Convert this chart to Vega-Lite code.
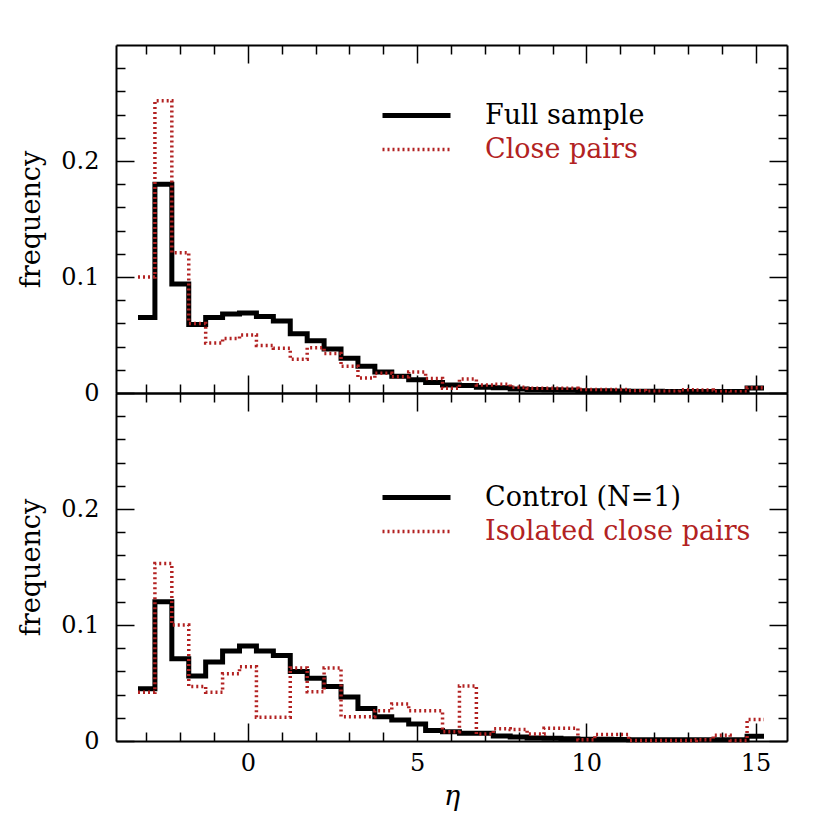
{
 "$schema": "https://vega.github.io/schema/vega-lite/v6.json",
 "padding": {"left": 17, "top": 44, "right": 10, "bottom": 10},
 "background": "white",
 "config": {
  "font": "DejaVu Serif",
  "view": {"stroke": null},
  "axis": {"grid": false, "domainColor": "black", "domainWidth": 2, "tickColor": "black", "tickWidth": 1.5, "labelFont": "DejaVu Serif", "labelFontSize": 24, "labelColor": "black", "titleFont": "DejaVu Serif", "titleFontSize": 27, "titleFontWeight": "normal", "titleColor": "black"},
  "legend": {"labelFont": "DejaVu Serif", "labelFontSize": 27, "labelLimit": 0}
 },
 "datasets": {
  "hist": [
   {"panel":"top","series":"Full sample","eta":-3.25,"freq":0.065},
   {"panel":"top","series":"Full sample","eta":-2.75,"freq":0.180},
   {"panel":"top","series":"Full sample","eta":-2.25,"freq":0.094},
   {"panel":"top","series":"Full sample","eta":-1.75,"freq":0.059},
   {"panel":"top","series":"Full sample","eta":-1.25,"freq":0.065},
   {"panel":"top","series":"Full sample","eta":-0.75,"freq":0.068},
   {"panel":"top","series":"Full sample","eta":-0.25,"freq":0.069},
   {"panel":"top","series":"Full sample","eta":0.25,"freq":0.066},
   {"panel":"top","series":"Full sample","eta":0.75,"freq":0.062},
   {"panel":"top","series":"Full sample","eta":1.25,"freq":0.051},
   {"panel":"top","series":"Full sample","eta":1.75,"freq":0.045},
   {"panel":"top","series":"Full sample","eta":2.25,"freq":0.038},
   {"panel":"top","series":"Full sample","eta":2.75,"freq":0.030},
   {"panel":"top","series":"Full sample","eta":3.25,"freq":0.023},
   {"panel":"top","series":"Full sample","eta":3.75,"freq":0.018},
   {"panel":"top","series":"Full sample","eta":4.25,"freq":0.0145},
   {"panel":"top","series":"Full sample","eta":4.75,"freq":0.0115},
   {"panel":"top","series":"Full sample","eta":5.25,"freq":0.009},
   {"panel":"top","series":"Full sample","eta":5.75,"freq":0.0068},
   {"panel":"top","series":"Full sample","eta":6.25,"freq":0.0065},
   {"panel":"top","series":"Full sample","eta":6.75,"freq":0.005},
   {"panel":"top","series":"Full sample","eta":7.25,"freq":0.0045},
   {"panel":"top","series":"Full sample","eta":7.75,"freq":0.0035},
   {"panel":"top","series":"Full sample","eta":8.25,"freq":0.003},
   {"panel":"top","series":"Full sample","eta":8.75,"freq":0.0028},
   {"panel":"top","series":"Full sample","eta":9.25,"freq":0.0025},
   {"panel":"top","series":"Full sample","eta":9.75,"freq":0.002},
   {"panel":"top","series":"Full sample","eta":10.25,"freq":0.002},
   {"panel":"top","series":"Full sample","eta":10.75,"freq":0.0018},
   {"panel":"top","series":"Full sample","eta":11.25,"freq":0.0016},
   {"panel":"top","series":"Full sample","eta":11.75,"freq":0.0015},
   {"panel":"top","series":"Full sample","eta":12.25,"freq":0.0014},
   {"panel":"top","series":"Full sample","eta":12.75,"freq":0.0014},
   {"panel":"top","series":"Full sample","eta":13.25,"freq":0.0013},
   {"panel":"top","series":"Full sample","eta":13.75,"freq":0.0013},
   {"panel":"top","series":"Full sample","eta":14.25,"freq":0.0013},
   {"panel":"top","series":"Full sample","eta":14.75,"freq":0.0043},
   {"panel":"top","series":"Full sample","eta":15.25,"freq":0.0043},
   {"panel":"top","series":"Close pairs","eta":-3.25,"freq":0.100},
   {"panel":"top","series":"Close pairs","eta":-2.75,"freq":0.252},
   {"panel":"top","series":"Close pairs","eta":-2.25,"freq":0.121},
   {"panel":"top","series":"Close pairs","eta":-1.75,"freq":0.060},
   {"panel":"top","series":"Close pairs","eta":-1.25,"freq":0.043},
   {"panel":"top","series":"Close pairs","eta":-0.75,"freq":0.047},
   {"panel":"top","series":"Close pairs","eta":-0.25,"freq":0.050},
   {"panel":"top","series":"Close pairs","eta":0.25,"freq":0.041},
   {"panel":"top","series":"Close pairs","eta":0.75,"freq":0.0386},
   {"panel":"top","series":"Close pairs","eta":1.25,"freq":0.029},
   {"panel":"top","series":"Close pairs","eta":1.75,"freq":0.039},
   {"panel":"top","series":"Close pairs","eta":2.25,"freq":0.034},
   {"panel":"top","series":"Close pairs","eta":2.75,"freq":0.023},
   {"panel":"top","series":"Close pairs","eta":3.25,"freq":0.013},
   {"panel":"top","series":"Close pairs","eta":3.75,"freq":0.017},
   {"panel":"top","series":"Close pairs","eta":4.25,"freq":0.014},
   {"panel":"top","series":"Close pairs","eta":4.75,"freq":0.018},
   {"panel":"top","series":"Close pairs","eta":5.25,"freq":0.0125},
   {"panel":"top","series":"Close pairs","eta":5.75,"freq":0.004},
   {"panel":"top","series":"Close pairs","eta":6.25,"freq":0.012},
   {"panel":"top","series":"Close pairs","eta":6.75,"freq":0.007},
   {"panel":"top","series":"Close pairs","eta":7.25,"freq":0.0075},
   {"panel":"top","series":"Close pairs","eta":7.75,"freq":0.005},
   {"panel":"top","series":"Close pairs","eta":8.25,"freq":0.004},
   {"panel":"top","series":"Close pairs","eta":8.75,"freq":0.004},
   {"panel":"top","series":"Close pairs","eta":9.25,"freq":0.004},
   {"panel":"top","series":"Close pairs","eta":9.75,"freq":0.003},
   {"panel":"top","series":"Close pairs","eta":10.25,"freq":0.003},
   {"panel":"top","series":"Close pairs","eta":10.75,"freq":0.003},
   {"panel":"top","series":"Close pairs","eta":11.25,"freq":0.002},
   {"panel":"top","series":"Close pairs","eta":11.75,"freq":0.0015},
   {"panel":"top","series":"Close pairs","eta":12.25,"freq":0.0015},
   {"panel":"top","series":"Close pairs","eta":12.75,"freq":0.0028},
   {"panel":"top","series":"Close pairs","eta":13.25,"freq":0.0025},
   {"panel":"top","series":"Close pairs","eta":13.75,"freq":0.0012},
   {"panel":"top","series":"Close pairs","eta":14.25,"freq":0.001},
   {"panel":"top","series":"Close pairs","eta":14.75,"freq":0.0045},
   {"panel":"top","series":"Close pairs","eta":15.25,"freq":0.0045},
   {"panel":"bottom","series":"Control (N=1)","eta":-3.25,"freq":0.045},
   {"panel":"bottom","series":"Control (N=1)","eta":-2.75,"freq":0.120},
   {"panel":"bottom","series":"Control (N=1)","eta":-2.25,"freq":0.071},
   {"panel":"bottom","series":"Control (N=1)","eta":-1.75,"freq":0.056},
   {"panel":"bottom","series":"Control (N=1)","eta":-1.25,"freq":0.068},
   {"panel":"bottom","series":"Control (N=1)","eta":-0.75,"freq":0.0776},
   {"panel":"bottom","series":"Control (N=1)","eta":-0.25,"freq":0.082},
   {"panel":"bottom","series":"Control (N=1)","eta":0.25,"freq":0.0776},
   {"panel":"bottom","series":"Control (N=1)","eta":0.75,"freq":0.0736},
   {"panel":"bottom","series":"Control (N=1)","eta":1.25,"freq":0.060},
   {"panel":"bottom","series":"Control (N=1)","eta":1.75,"freq":0.054},
   {"panel":"bottom","series":"Control (N=1)","eta":2.25,"freq":0.047},
   {"panel":"bottom","series":"Control (N=1)","eta":2.75,"freq":0.038},
   {"panel":"bottom","series":"Control (N=1)","eta":3.25,"freq":0.028},
   {"panel":"bottom","series":"Control (N=1)","eta":3.75,"freq":0.021},
   {"panel":"bottom","series":"Control (N=1)","eta":4.25,"freq":0.018},
   {"panel":"bottom","series":"Control (N=1)","eta":4.75,"freq":0.0146},
   {"panel":"bottom","series":"Control (N=1)","eta":5.25,"freq":0.009},
   {"panel":"bottom","series":"Control (N=1)","eta":5.75,"freq":0.008},
   {"panel":"bottom","series":"Control (N=1)","eta":6.25,"freq":0.0066},
   {"panel":"bottom","series":"Control (N=1)","eta":6.75,"freq":0.0066},
   {"panel":"bottom","series":"Control (N=1)","eta":7.25,"freq":0.0043},
   {"panel":"bottom","series":"Control (N=1)","eta":7.75,"freq":0.0035},
   {"panel":"bottom","series":"Control (N=1)","eta":8.25,"freq":0.0025},
   {"panel":"bottom","series":"Control (N=1)","eta":8.75,"freq":0.0023},
   {"panel":"bottom","series":"Control (N=1)","eta":9.25,"freq":0.002},
   {"panel":"bottom","series":"Control (N=1)","eta":9.75,"freq":0.0015},
   {"panel":"bottom","series":"Control (N=1)","eta":10.25,"freq":0.0015},
   {"panel":"bottom","series":"Control (N=1)","eta":10.75,"freq":0.0012},
   {"panel":"bottom","series":"Control (N=1)","eta":11.25,"freq":0.001},
   {"panel":"bottom","series":"Control (N=1)","eta":11.75,"freq":0.001},
   {"panel":"bottom","series":"Control (N=1)","eta":12.25,"freq":0.001},
   {"panel":"bottom","series":"Control (N=1)","eta":12.75,"freq":0.001},
   {"panel":"bottom","series":"Control (N=1)","eta":13.25,"freq":0.001},
   {"panel":"bottom","series":"Control (N=1)","eta":13.75,"freq":0.001},
   {"panel":"bottom","series":"Control (N=1)","eta":14.25,"freq":0.001},
   {"panel":"bottom","series":"Control (N=1)","eta":14.75,"freq":0.004},
   {"panel":"bottom","series":"Control (N=1)","eta":15.25,"freq":0.004},
   {"panel":"bottom","series":"Isolated close pairs","eta":-3.25,"freq":0.042},
   {"panel":"bottom","series":"Isolated close pairs","eta":-2.75,"freq":0.153},
   {"panel":"bottom","series":"Isolated close pairs","eta":-2.25,"freq":0.100},
   {"panel":"bottom","series":"Isolated close pairs","eta":-1.75,"freq":0.047},
   {"panel":"bottom","series":"Isolated close pairs","eta":-1.25,"freq":0.042},
   {"panel":"bottom","series":"Isolated close pairs","eta":-0.75,"freq":0.058},
   {"panel":"bottom","series":"Isolated close pairs","eta":-0.25,"freq":0.064},
   {"panel":"bottom","series":"Isolated close pairs","eta":0.25,"freq":0.0205},
   {"panel":"bottom","series":"Isolated close pairs","eta":0.75,"freq":0.0205},
   {"panel":"bottom","series":"Isolated close pairs","eta":1.25,"freq":0.063},
   {"panel":"bottom","series":"Isolated close pairs","eta":1.75,"freq":0.0425},
   {"panel":"bottom","series":"Isolated close pairs","eta":2.25,"freq":0.063},
   {"panel":"bottom","series":"Isolated close pairs","eta":2.75,"freq":0.021},
   {"panel":"bottom","series":"Isolated close pairs","eta":3.25,"freq":0.021},
   {"panel":"bottom","series":"Isolated close pairs","eta":3.75,"freq":0.026},
   {"panel":"bottom","series":"Isolated close pairs","eta":4.25,"freq":0.032},
   {"panel":"bottom","series":"Isolated close pairs","eta":4.75,"freq":0.026},
   {"panel":"bottom","series":"Isolated close pairs","eta":5.25,"freq":0.026},
   {"panel":"bottom","series":"Isolated close pairs","eta":5.75,"freq":0.008},
   {"panel":"bottom","series":"Isolated close pairs","eta":6.25,"freq":0.0475},
   {"panel":"bottom","series":"Isolated close pairs","eta":6.75,"freq":0.006},
   {"panel":"bottom","series":"Isolated close pairs","eta":7.25,"freq":0.0105},
   {"panel":"bottom","series":"Isolated close pairs","eta":7.75,"freq":0.010},
   {"panel":"bottom","series":"Isolated close pairs","eta":8.25,"freq":0.006},
   {"panel":"bottom","series":"Isolated close pairs","eta":8.75,"freq":0.011},
   {"panel":"bottom","series":"Isolated close pairs","eta":9.25,"freq":0.011},
   {"panel":"bottom","series":"Isolated close pairs","eta":9.75,"freq":0.001},
   {"panel":"bottom","series":"Isolated close pairs","eta":10.25,"freq":0.0057},
   {"panel":"bottom","series":"Isolated close pairs","eta":10.75,"freq":0.0057},
   {"panel":"bottom","series":"Isolated close pairs","eta":11.25,"freq":0.0005},
   {"panel":"bottom","series":"Isolated close pairs","eta":11.75,"freq":0.0005},
   {"panel":"bottom","series":"Isolated close pairs","eta":12.25,"freq":0.0005},
   {"panel":"bottom","series":"Isolated close pairs","eta":12.75,"freq":0.0005},
   {"panel":"bottom","series":"Isolated close pairs","eta":13.25,"freq":0.001},
   {"panel":"bottom","series":"Isolated close pairs","eta":13.75,"freq":0.005},
   {"panel":"bottom","series":"Isolated close pairs","eta":14.25,"freq":0.0005},
   {"panel":"bottom","series":"Isolated close pairs","eta":14.75,"freq":0.0186},
   {"panel":"bottom","series":"Isolated close pairs","eta":15.25,"freq":0.0186}
  ]
 },
 "spacing": 0,
 "bounds": "flush",
 "resolve": {
  "scale": {"color": "independent", "strokeDash": "independent", "strokeWidth": "independent"},
  "legend": {"color": "independent", "strokeDash": "independent", "strokeWidth": "independent"}
 },
 "vconcat": [
  {
   "width": 671,
   "height": 348,
   "resolve": {"axis": {"x": "independent", "y": "independent"}},
   "layer": [
    {
     "data": {"name": "hist"},
     "transform": [{"filter": "datum.panel == 'top' && datum.series == 'Full sample'"}],
     "mark": {"type": "line", "interpolate": "step-after"},
     "encoding": {
      "x": {"field": "eta", "type": "quantitative", "scale": {"domain": [-3.9, 15.93], "nice": false, "zero": false},
            "axis": {"orient": "bottom", "values": [-3,-2,-1,0,1,2,3,4,5,6,7,8,9,10,11,12,13,14,15], "tickSize": {"condition": {"test": "datum.value % 5 == 0", "value": -18}, "value": -9}, "labels": false, "title": null}},
      "y": {"field": "freq", "type": "quantitative", "scale": {"domain": [0, 0.3], "nice": false},
            "axis": {"orient": "left", "values": [0,0.02,0.04,0.06,0.08,0.1,0.12,0.14,0.16,0.18,0.2,0.22,0.24,0.26,0.28], "tickSize": {"condition": {"test": "datum.value == 0 || datum.value == 0.1 || datum.value == 0.2", "value": -18}, "value": -9}, "labelExpr": "datum.value == 0 ? '0' : datum.value == 0.1 ? '0.1' : datum.value == 0.2 ? '0.2' : ''", "labelPadding": 35, "title": "frequency", "titlePadding": 15}},
      "color": {"field": "series", "type": "nominal", "scale": {"domain": ["Full sample", "Close pairs"], "range": ["black", "#b22222"]},
                "legend": {"orient": "none", "legendX": 287, "legendY": 57, "title": null, "symbolType": "M-3.4,0H3.4", "symbolSize": 400, "labelOffset": 55, "rowPadding": 6, "labelFontSize": 27, "labelLimit": 0, "labelFont": "DejaVu Serif", "encode": {"labels": {"update": {"fill": {"signal": "datum.value == 'Full sample' ? 'black' : '#b22222'"}}}}}},
      "strokeDash": {"field": "series", "type": "nominal", "scale": {"domain": ["Full sample", "Close pairs"], "range": [[1,0],[2,3]]}},
      "strokeWidth": {"field": "series", "type": "nominal", "scale": {"domain": ["Full sample", "Close pairs"], "range": [5, 3.5]}}
     }
    },
    {
     "data": {"name": "hist"},
     "transform": [{"filter": "datum.panel == 'top' && datum.series == 'Close pairs'"}],
     "mark": {"type": "line", "interpolate": "step-after"},
     "encoding": {
      "x": {"field": "eta", "type": "quantitative",
            "axis": {"orient": "top", "values": [-3,-2,-1,0,1,2,3,4,5,6,7,8,9,10,11,12,13,14,15], "tickSize": {"condition": {"test": "datum.value % 5 == 0", "value": -18}, "value": -9}, "labels": false, "title": null}},
      "y": {"field": "freq", "type": "quantitative",
            "axis": {"orient": "right", "values": [0,0.02,0.04,0.06,0.08,0.1,0.12,0.14,0.16,0.18,0.2,0.22,0.24,0.26,0.28], "tickSize": {"condition": {"test": "datum.value == 0 || datum.value == 0.1 || datum.value == 0.2", "value": -18}, "value": -9}, "labels": false, "title": null}},
      "color": {"field": "series", "type": "nominal"},
      "strokeDash": {"field": "series", "type": "nominal"},
      "strokeWidth": {"field": "series", "type": "nominal"}
     }
    }
   ]
  },
  {
   "width": 671,
   "height": 348,
   "resolve": {"axis": {"x": "independent", "y": "independent"}},
   "layer": [
    {
     "data": {"name": "hist"},
     "transform": [{"filter": "datum.panel == 'bottom' && datum.series == 'Control (N=1)'"}],
     "mark": {"type": "line", "interpolate": "step-after"},
     "encoding": {
      "x": {"field": "eta", "type": "quantitative", "scale": {"domain": [-3.9, 15.93], "nice": false, "zero": false},
            "axis": {"orient": "bottom", "values": [-3,-2,-1,0,1,2,3,4,5,6,7,8,9,10,11,12,13,14,15], "tickSize": {"condition": {"test": "datum.value % 5 == 0", "value": -18}, "value": -9}, "labelExpr": "datum.value % 5 == 0 ? datum.label : ''", "labelPadding": 28, "title": "η", "titleFontStyle": "italic", "titlePadding": 8}},
      "y": {"field": "freq", "type": "quantitative", "scale": {"domain": [0, 0.3], "nice": false},
            "axis": {"orient": "left", "values": [0,0.02,0.04,0.06,0.08,0.1,0.12,0.14,0.16,0.18,0.2,0.22,0.24,0.26,0.28], "tickSize": {"condition": {"test": "datum.value == 0 || datum.value == 0.1 || datum.value == 0.2", "value": -18}, "value": -9}, "labelExpr": "datum.value == 0 ? '0' : datum.value == 0.1 ? '0.1' : datum.value == 0.2 ? '0.2' : ''", "labelPadding": 35, "title": "frequency", "titlePadding": 15}},
      "color": {"field": "series", "type": "nominal", "scale": {"domain": ["Control (N=1)", "Isolated close pairs"], "range": ["black", "#b22222"]},
                "legend": {"orient": "none", "legendX": 287, "legendY": 91, "title": null, "symbolType": "M-3.4,0H3.4", "symbolSize": 400, "labelOffset": 55, "rowPadding": 6, "labelFontSize": 27, "labelLimit": 0, "labelFont": "DejaVu Serif", "encode": {"labels": {"update": {"fill": {"signal": "datum.value == 'Control (N=1)' ? 'black' : '#b22222'"}}}}}},
      "strokeDash": {"field": "series", "type": "nominal", "scale": {"domain": ["Control (N=1)", "Isolated close pairs"], "range": [[1,0],[2,3]]}},
      "strokeWidth": {"field": "series", "type": "nominal", "scale": {"domain": ["Control (N=1)", "Isolated close pairs"], "range": [5, 3.5]}}
     }
    },
    {
     "data": {"name": "hist"},
     "transform": [{"filter": "datum.panel == 'bottom' && datum.series == 'Isolated close pairs'"}],
     "mark": {"type": "line", "interpolate": "step-after"},
     "encoding": {
      "x": {"field": "eta", "type": "quantitative",
            "axis": {"orient": "top", "values": [-3,-2,-1,0,1,2,3,4,5,6,7,8,9,10,11,12,13,14,15], "tickSize": {"condition": {"test": "datum.value % 5 == 0", "value": -18}, "value": -9}, "labels": false, "title": null}},
      "y": {"field": "freq", "type": "quantitative",
            "axis": {"orient": "right", "values": [0,0.02,0.04,0.06,0.08,0.1,0.12,0.14,0.16,0.18,0.2,0.22,0.24,0.26,0.28], "tickSize": {"condition": {"test": "datum.value == 0 || datum.value == 0.1 || datum.value == 0.2", "value": -18}, "value": -9}, "labels": false, "title": null}},
      "color": {"field": "series", "type": "nominal"},
      "strokeDash": {"field": "series", "type": "nominal"},
      "strokeWidth": {"field": "series", "type": "nominal"}
     }
    }
   ]
  }
 ]
}
